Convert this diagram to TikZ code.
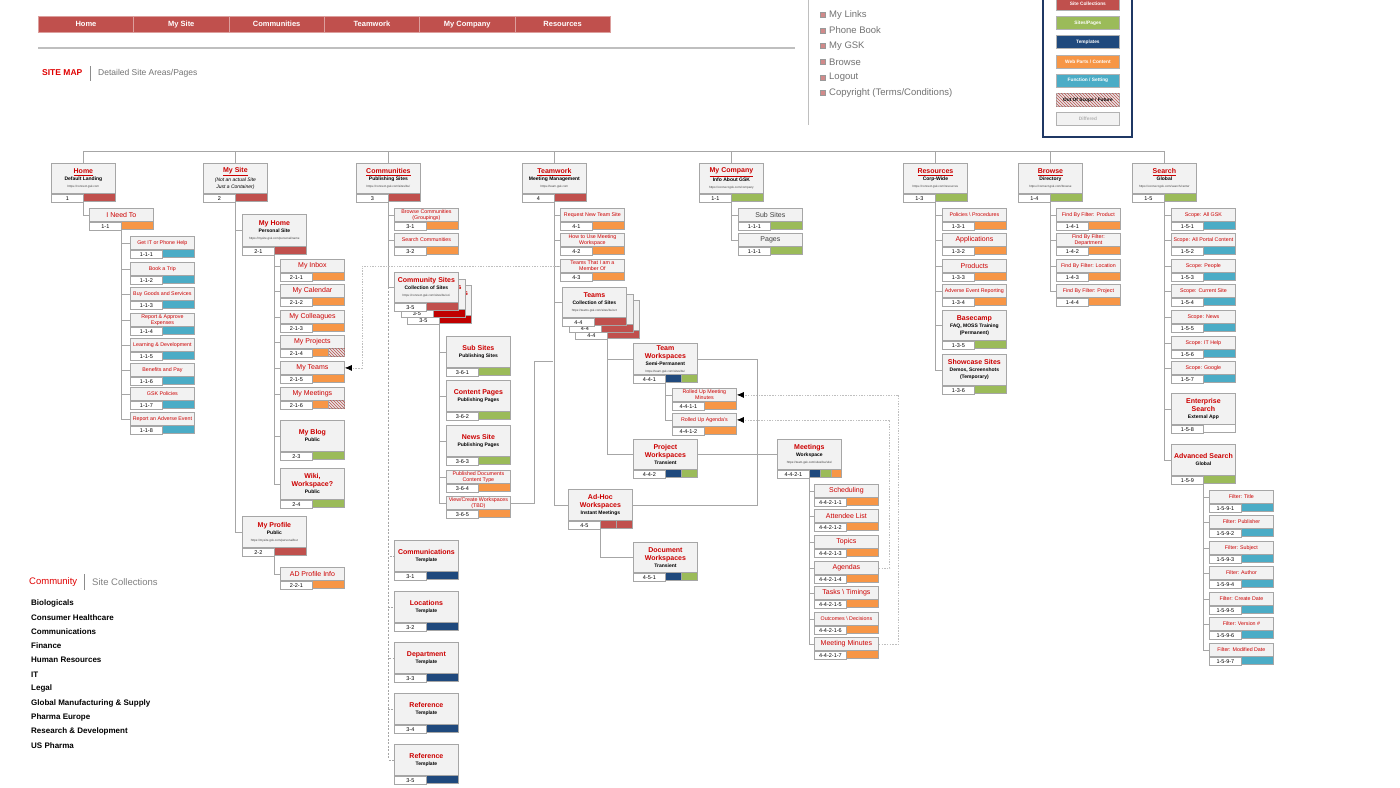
\documentclass[tikz,border=0pt]{standalone}
\usepackage{fontspec}
\setmainfont{Liberation Sans}
\usetikzlibrary{arrows.meta,patterns,positioning}
\definecolor{sred}{HTML}{C0504D}
\definecolor{sdark}{HTML}{C00000}
\definecolor{sorange}{HTML}{F79646}
\definecolor{sgreen}{HTML}{9BBB59}
\definecolor{snavy}{HTML}{1F497D}
\definecolor{sblue}{HTML}{4BACC6}
\definecolor{tred}{HTML}{CC0000}
\definecolor{mapred}{HTML}{E00000}
\definecolor{boxfill}{HTML}{F2F2F2}
\definecolor{boxgray}{HTML}{A6A6A6}
\definecolor{legnavy}{HTML}{1F3864}
\definecolor{bulletred}{HTML}{D08A8A}

\tikzset{
  lbl/.style={draw=boxgray, fill=boxfill, line width=0.8pt, minimum width=64pt,
    inner sep=0pt, align=center, anchor=north west, font=\fontsize{5}{7}\selectfont},
  idc/.style={draw=boxgray, fill=white, line width=0.8pt, minimum width=32pt,
    minimum height=8pt, inner sep=0pt, anchor=north west, font=\fontsize{5.5}{6}\selectfont},
  cellbox/.style={draw=boxgray, line width=0.8pt},
  cred/.style={fill=sred}, cdark/.style={fill=sdark}, corange/.style={fill=sorange},
  cgreen/.style={fill=sgreen}, cnavy/.style={fill=snavy}, cblue/.style={fill=sblue},
  cwhite/.style={fill=white},
  chatch/.style={fill=black!10, postaction={pattern=north west lines, pattern color=sred}},
  conn/.style={draw=black!35, line width=0.8pt},
  dots/.style={draw=black!25, line width=0.7pt, dash pattern=on 1.5pt off 1.2pt,
    -{Latex[length=7pt,width=6pt,color=black]}},
  navcell/.style={anchor=north west, minimum width=95.33pt, minimum height=16pt, inner sep=0pt,
    fill=sred, draw=sred!55!white, line width=0.6pt, text=white,
    font=\fontsize{7.5}{8}\selectfont\bfseries},
  legitem/.style={anchor=north west, minimum width=63pt, minimum height=13pt, inner sep=0pt,
    draw=black!30, line width=0.8pt, text=white, font=\fontsize{4.8}{5}\selectfont\bfseries},
  bulletsq/.style={draw=black!40, fill=bulletred, minimum size=5pt, inner sep=0pt, line width=0.5pt},
  linktxt/.style={anchor=west, inner sep=0pt, text=black!55, font=\fontsize{9.5}{11}\selectfont},
  commitem/.style={anchor=west, inner sep=0pt, font=\fontsize{8}{9}\selectfont\bfseries},
}

\newcommand{\ttl}[1]{{\fontsize{7}{8}\selectfont\bfseries\color{tred}#1}}
\newcommand{\ttu}[1]{\ttl{\underline{#1}}}
\newcommand{\sbt}[1]{{\fontsize{5}{6}\selectfont\bfseries #1}}
\newcommand{\itl}[1]{{\fontsize{5}{6}\selectfont\itshape #1}}
\newcommand{\lnk}[1]{{\fontsize{3}{4}\selectfont\color{black!75}#1}}
\newcommand{\smt}[1]{{\fontsize{5.3}{6}\selectfont\color{tred}#1}}
\newcommand{\bgt}[1]{{\fontsize{7}{8}\selectfont\color{tred}#1}}
\newcommand{\gyt}[1]{{\fontsize{7}{8}\selectfont\color{black!75}#1}}
% name, x, y, label height, label, id, cells
\newcommand{\pgbox}[7]{%
  \node[lbl, minimum height=#4] (#1) at (#2,#3) {#5};
  \node[idc] (#1-id) at (#1.south west) {#6};
  \foreach \cc [count=\k] in {#7} {\xdef\ncell{\k}}%
  \foreach \cc [count=\k from 0] in {#7}
    \path[cellbox,\cc] ([xshift=\k*32/\ncell]#1-id.north east) rectangle ++(32/\ncell,8);
}

\begin{document}
\begin{tikzpicture}[x=1pt,y=-1pt]
  \useasboundingbox (0,0) rectangle (1400,787);
  \fill[white] (0,0) rectangle (1400,787);

  % top navigation
  \foreach \t [count=\i from 0] in {Home,My Site,Communities,Teamwork,My Company,Resources}
    \node[navcell] (nav\i) at (38+95.33*\i,16) {\t};
  \draw[black!25, line width=1.2pt] (38,48) -- (795,48);
  \node[anchor=west, inner sep=0pt, text=mapred, font=\fontsize{8.5}{10}\selectfont\bfseries] (sitemap) at (42,73) {SITE MAP};
  \draw[black!45, line width=0.8pt] (90,66) -- (90,81);
  \node[anchor=west, inner sep=0pt, text=black!55, font=\fontsize{8.5}{10}\selectfont] (areas) at (98,73) {Detailed Site Areas/Pages};

  % links
  \draw[black!25, line width=1pt] (808,0) -- (808,125);
  \foreach \t [count=\i from 0] in {My Links,Phone Book,My GSK,Browse,Logout,Copyright (Terms/Conditions)} {
    \node[bulletsq] (bu\i) at (823,15+15.6*\i) {};
    \node[linktxt] (lk\i) at (829,15+15.6*\i) {\t};
  }

  % legend
  \draw[legnavy, line width=1.6pt] (1043,-5) rectangle (1132,137);
  \node[legitem, fill=sred] (lg1) at (1056,-3) {Site Collections};
  \node[legitem, fill=sgreen] (lg2) at (1056,16) {Sites/Pages};
  \node[legitem, fill=snavy] (lg3) at (1056,35) {Templates};
  \node[legitem, fill=sorange] (lg4) at (1056,54.5) {Web Parts / Content};
  \node[legitem, fill=sblue] (lg5) at (1056,73.5) {Function / Setting};
  \node[legitem, chatch, text=black] (lg6) at (1056,93) {Out Of Scope / Future};
  \node[legitem, fill=boxfill, text=black!30] (lg7) at (1056,112) {Differed};

  % Home
  \pgbox{home}{51}{163}{30}{\ttu{Home}\\\sbt{Default Landing}\\\lnk{https://connect.gsk.com}}{1}{cred}
  \pgbox{ineed}{89}{208}{13}{\bgt{I Need To}}{1-1}{corange}
  \pgbox{h1}{130}{236}{13}{\smt{Get IT or Phone Help}}{1-1-1}{cblue}
  \pgbox{h2}{130}{262}{13}{\smt{Book a Trip}}{1-1-2}{cblue}
  \pgbox{h3}{130}{287}{13}{\smt{Buy Goods and Services}}{1-1-3}{cblue}
  \pgbox{h4}{130}{313}{13}{\smt{Report \& Approve}\\[-1pt]\smt{Expenses}}{1-1-4}{cblue}
  \pgbox{h5}{130}{338}{13}{\smt{Learning \& Development}}{1-1-5}{cblue}
  \pgbox{h6}{130}{363}{13}{\smt{Benefits and Pay}}{1-1-6}{cblue}
  \pgbox{h7}{130}{387}{13}{\smt{GSK Policies}}{1-1-7}{cblue}
  \pgbox{h8}{130}{412}{13}{\smt{Report an Adverse Event}}{1-1-8}{cblue}

  % My Site
  \pgbox{mysite}{203}{163}{30}{\ttu{My Site}\\[1.5pt]\itl{(Not an actual Site}\\\itl{Just a Container)}}{2}{cred}
  \pgbox{myhome}{242}{214}{32}{\ttl{My Home}\\\sbt{Personal Site}\\\lnk{https://mysite.gsk.com/personal/name}}{2-1}{cred}
  \pgbox{ms1}{280}{259}{13}{\bgt{My Inbox}}{2-1-1}{corange}
  \pgbox{ms2}{280}{284}{13}{\bgt{My Calendar}}{2-1-2}{corange}
  \pgbox{ms3}{280}{310}{13}{\bgt{My Colleagues}}{2-1-3}{corange}
  \pgbox{ms4}{280}{335}{13}{\bgt{My Projects}}{2-1-4}{corange,chatch}
  \pgbox{ms5}{280}{361}{13}{\bgt{My Teams}}{2-1-5}{corange}
  \pgbox{ms6}{280}{387}{13}{\bgt{My Meetings}}{2-1-6}{corange,chatch}
  \pgbox{blog}{280}{420}{31}{\ttl{My Blog}\\\sbt{Public}}{2-3}{cgreen}
  \pgbox{wiki}{280}{468}{31}{\ttl{Wiki,}\\[1pt]\ttl{Workspace?}\\\sbt{Public}}{2-4}{cgreen}
  \pgbox{myprof}{242}{516}{31}{\ttl{My Profile}\\\sbt{Public}\\\lnk{https://mysite.gsk.com/personal/but}}{2-2}{cred}
  \pgbox{adp}{280}{567}{13}{\bgt{AD Profile Info}}{2-2-1}{corange}

  % Communities
  \pgbox{comm}{356}{163}{30}{\ttu{Communities}\\\sbt{Publishing Sites}\\\lnk{https://connect.gsk.com/sites/bu/}}{3}{cred}
  \pgbox{c31}{394}{208}{13}{\smt{Browse Communities}\\[-1pt]\smt{(Groupings)}}{3-1}{corange}
  \pgbox{c32}{394}{233}{13}{\smt{Search Communities}}{3-2}{corange}
  \pgbox{cs3}{407}{285}{30}{\ttl{Community Sites}\\\sbt{Collection of Sites}\\\lnk{https://connect.gsk.com/sites/bu/oci}}{3-5}{cdark}
  \pgbox{cs2}{400.5}{278.5}{30}{\ttl{Community Sites}\\\sbt{Collection of Sites}\\\lnk{https://connect.gsk.com/sites/bu/oci}}{3-5}{cdark}
  \pgbox{cs1}{394}{272}{30}{\ttl{Community Sites}\\\sbt{Collection of Sites}\\\lnk{https://connect.gsk.com/sites/bu/oci}}{3-5}{cred}
  \pgbox{c361}{446}{336}{31}{\ttl{Sub Sites}\\\sbt{Publishing Sites}}{3-6-1}{cgreen}
  \pgbox{c362}{446}{380}{31}{\ttl{Content Pages}\\\sbt{Publishing Pages}}{3-6-2}{cgreen}
  \pgbox{c363}{446}{425}{31}{\ttl{News Site}\\\sbt{Publishing Pages}}{3-6-3}{cgreen}
  \pgbox{c364}{446}{470}{13}{\smt{Published Documents}\\[-1pt]\smt{Content Type}}{3-6-4}{corange}
  \pgbox{c365}{446}{496}{13}{\smt{View/Create Workspaces}\\[-1pt]\smt{(TBD)}}{3-6-5}{corange}
  \pgbox{ct1}{394}{540}{31}{\ttl{Communications}\\\sbt{Template}}{3-1}{cnavy}
  \pgbox{ct2}{394}{591}{31}{\ttl{Locations}\\\sbt{Template}}{3-2}{cnavy}
  \pgbox{ct3}{394}{642}{31}{\ttl{Department}\\\sbt{Template}}{3-3}{cnavy}
  \pgbox{ct4}{394}{693}{31}{\ttl{Reference}\\\sbt{Template}}{3-4}{cnavy}
  \pgbox{ct5}{394}{744}{31}{\ttl{Reference}\\\sbt{Template}}{3-5}{cnavy}

  % Teamwork
  \pgbox{team}{522}{163}{30}{\ttu{Teamwork}\\\sbt{Meeting Management}\\\lnk{https://team.gsk.com}}{4}{cred}
  \pgbox{t41}{560}{208}{13}{\smt{Request New Team Site}}{4-1}{corange}
  \pgbox{t42}{560}{233}{13}{\smt{How to Use Meeting}\\[-1pt]\smt{Workspace}}{4-2}{corange}
  \pgbox{t43}{560}{259}{13}{\smt{Teams That I am a}\\[-1pt]\smt{Member Of}}{4-3}{corange}
  \pgbox{teams3}{575}{300}{30}{\ttl{Teams}\\\sbt{Collection of Sites}\\\lnk{https://teams.gsk.com/sites/bu/oct}}{4-4}{cred}
  \pgbox{teams2}{568.5}{293.5}{30}{\ttl{Teams}\\\sbt{Collection of Sites}\\\lnk{https://teams.gsk.com/sites/bu/oct}}{4-4}{cred}
  \pgbox{teams1}{562}{287}{30}{\ttl{Teams}\\\sbt{Collection of Sites}\\\lnk{https://teams.gsk.com/sites/bu/oct}}{4-4}{cred}
  \pgbox{tw}{633}{343}{31}{\ttl{Team}\\[1pt]\ttl{Workspaces}\\\sbt{Semi-Permanent}\\\lnk{https://team.gsk.com/sites/bu/}}{4-4-1}{cnavy,cgreen}
  \pgbox{rum}{672}{388}{13}{\smt{Rolled Up Meeting}\\[-1pt]\smt{Minutes}}{4-4-1-1}{corange}
  \pgbox{rua}{672}{413}{13}{\smt{Rolled Up Agenda's}}{4-4-1-2}{corange}
  \pgbox{pw}{633}{439}{30}{\ttl{Project}\\[1pt]\ttl{Workspaces}\\\sbt{Transient}}{4-4-2}{cnavy,cgreen}
  \pgbox{mtg}{777}{439}{30}{\ttl{Meetings}\\\sbt{Workspace}\\\lnk{https://team.gsk.com/sites/bu/site/}}{4-4-2-1}{cnavy,cgreen,corange}
  \pgbox{m1}{814}{484}{13}{\bgt{Scheduling}}{4-4-2-1-1}{corange}
  \pgbox{m2}{814}{509}{13}{\bgt{Attendee List}}{4-4-2-1-2}{corange}
  \pgbox{m3}{814}{535}{13}{\bgt{Topics}}{4-4-2-1-3}{corange}
  \pgbox{m4}{814}{561}{13}{\bgt{Agendas}}{4-4-2-1-4}{corange}
  \pgbox{m5}{814}{586}{13}{\bgt{Tasks \textbackslash{} Timings}}{4-4-2-1-5}{corange}
  \pgbox{m6}{814}{612}{13}{\smt{Outcomes \textbackslash{} Decisions}}{4-4-2-1-6}{corange}
  \pgbox{m7}{814}{637}{13}{\bgt{Meeting Minutes}}{4-4-2-1-7}{corange}
  \pgbox{ah}{568}{489}{31}{\ttl{Ad-Hoc}\\[1pt]\ttl{Workspaces}\\\sbt{Instant Meetings}}{4-5}{cred,cred}
  \pgbox{dw}{633}{542}{30}{\ttl{Document}\\[1pt]\ttl{Workspaces}\\\sbt{Transient}}{4-5-1}{cnavy,cgreen}

  % My Company
  \pgbox{myco}{699}{163}{30}{\ttu{My Company}\\\sbt{Info About GSK}\\\lnk{https://connect.gsk.com/company}}{1-1}{cgreen}
  \pgbox{mc1}{738}{208}{13}{\gyt{Sub Sites}}{1-1-1}{cgreen}
  \pgbox{mc2}{738}{233}{13}{\gyt{Pages}}{1-1-1}{cgreen}

  % Resources
  \pgbox{res}{903}{163}{30}{\ttu{Resources}\\\sbt{Corp-Wide}\\\lnk{https://connect.gsk.com/resources}}{1-3}{cgreen}
  \pgbox{r1}{942}{208}{13}{\smt{Policies \textbackslash{} Procedures}}{1-3-1}{corange}
  \pgbox{r2}{942}{233}{13}{\bgt{Applications}}{1-3-2}{corange}
  \pgbox{r3}{942}{259}{13}{\bgt{Products}}{1-3-3}{corange}
  \pgbox{r4}{942}{284}{13}{\smt{Adverse Event Reporting}}{1-3-4}{corange}
  \pgbox{r5}{942}{310}{30}{\ttl{Basecamp}\\\sbt{FAQ, MOSS Training}\\\sbt{(Permanent)}}{1-3-5}{cgreen}
  \pgbox{r6}{942}{354}{31}{\ttl{Showcase Sites}\\\sbt{Demos, Screenshots}\\\sbt{(Temporary)}}{1-3-6}{cgreen}

  % Browse
  \pgbox{brw}{1018}{163}{30}{\ttu{Browse}\\\sbt{Directory}\\\lnk{https://connect.gsk.com/browse}}{1-4}{cgreen}
  \pgbox{b1}{1056}{208}{13}{\smt{Find By Filter: Product}}{1-4-1}{corange}
  \pgbox{b2}{1056}{233}{13}{\smt{Find By Filter:}\\[-1pt]\smt{Department}}{1-4-2}{corange}
  \pgbox{b3}{1056}{259}{13}{\smt{Find By Filter: Location}}{1-4-3}{corange}
  \pgbox{b4}{1056}{284}{13}{\smt{Find By Filter: Project}}{1-4-4}{corange}

  % Search
  \pgbox{srch}{1132}{163}{30}{\ttu{Search}\\\sbt{Global}\\\lnk{https://connect.gsk.com/search/center}}{1-5}{cgreen}
  \pgbox{s1}{1171}{208}{13}{\smt{Scope: All GSK}}{1-5-1}{cblue}
  \pgbox{s2}{1171}{233}{13}{\smt{Scope: All Portal Content}}{1-5-2}{cblue}
  \pgbox{s3}{1171}{259}{13}{\smt{Scope: People}}{1-5-3}{cblue}
  \pgbox{s4}{1171}{284}{13}{\smt{Scope: Current Site}}{1-5-4}{cblue}
  \pgbox{s5}{1171}{310}{13}{\smt{Scope: News}}{1-5-5}{cblue}
  \pgbox{s6}{1171}{336}{13}{\smt{Scope: IT Help}}{1-5-6}{cblue}
  \pgbox{s7}{1171}{361}{13}{\smt{Scope: Google}}{1-5-7}{cblue}
  \pgbox{s8}{1171}{393}{31}{\ttl{Enterprise}\\[1pt]\ttl{Search}\\\sbt{External App}}{1-5-8}{cwhite}
  \pgbox{s9}{1171}{444}{31}{\ttl{Advanced Search}\\\sbt{Global}}{1-5-9}{cgreen}
  \pgbox{f1}{1209}{490}{13}{\smt{Filter: Title}}{1-5-9-1}{cblue}
  \pgbox{f2}{1209}{515}{13}{\smt{Filter: Publisher}}{1-5-9-2}{cblue}
  \pgbox{f3}{1209}{541}{13}{\smt{Filter: Subject}}{1-5-9-3}{cblue}
  \pgbox{f4}{1209}{566}{13}{\smt{Filter: Author}}{1-5-9-4}{cblue}
  \pgbox{f5}{1209}{592}{13}{\smt{Filter: Create Date}}{1-5-9-5}{cblue}
  \pgbox{f6}{1209}{617}{13}{\smt{Filter: Version \#}}{1-5-9-6}{cblue}
  \pgbox{f7}{1209}{643}{13}{\smt{Filter: Modified Date}}{1-5-9-7}{cblue}

  % connectors
  \coordinate (bus) at (0,151);
  \draw[conn] (home.north |- bus) -- (srch.north |- bus);
  \foreach \t in {home,mysite,comm,team,myco,res,brw,srch}
    \draw[conn] (\t.north) -- (\t.north |- bus);
  \draw[conn] (home-id.south east) |- (ineed.west);
  \foreach \c in {h1,h2,h3,h4,h5,h6,h7,h8} \draw[conn] (ineed-id.south east) |- (\c.west);
  \foreach \c in {myhome,myprof} \draw[conn] (mysite-id.south east) |- (\c.west);
  \foreach \c in {ms1,ms2,ms3,ms4,ms5,ms6,blog,wiki} \draw[conn] (myhome-id.south east) |- (\c.west);
  \draw[conn] (myprof-id.south east) |- (adp.west);
  \foreach \c in {c31,c32,cs1} \draw[conn] (comm-id.south east) |- (\c.west);
  \foreach \c in {ct1,ct2,ct3,ct4,ct5}
    \draw[conn, dash pattern=on 2pt off 1.5pt] (cs1.west -| comm-id.south east) |- (\c.west);
  \foreach \c in {c361,c362,c363,c364,c365} \draw[conn] (cs3-id.south east) |- (\c.west);
  \coordinate (twjoin) at (553,361);
  \draw[conn] (c365.east) -- ++(24,0) |- (twjoin);
  \foreach \c in {t41,t42,t43,teams1,ah} \draw[conn] (team-id.south east) |- (\c.west);
  \foreach \c in {tw,pw} \draw[conn] (teams3-id.south east) |- (\c.west);
  \foreach \c in {rum,rua} \draw[conn] (tw-id.south east) |- (\c.west);
  \draw[conn] (tw.east) -- ++(60,0) |- (ah.east);
  \draw[conn] (pw.east) -- (mtg.west);
  \foreach \c in {m1,m2,m3,m4,m5,m6,m7} \draw[conn] (mtg-id.south east) |- (\c.west);
  \draw[conn] (ah-id.south east) |- (dw.west);
  \foreach \c in {mc1,mc2} \draw[conn] (myco-id.south east) |- (\c.west);
  \foreach \c in {r1,r2,r3,r4,r5,r6} \draw[conn] (res-id.south east) |- (\c.west);
  \foreach \c in {b1,b2,b3,b4} \draw[conn] (brw-id.south east) |- (\c.west);
  \foreach \c in {s1,s2,s3,s4,s5,s6,s7,s8,s9} \draw[conn] (srch-id.south east) |- (\c.west);
  \foreach \c in {f1,f2,f3,f4,f5,f6,f7} \draw[conn] (s9-id.south east) |- (\c.west);

  % cross references
  \draw[dots] (t43.west) -- ++(-198,0) |- (ms5.east);
  \draw[dots] (m4.east) -- ++(11,0) |- (rua.east);
  \draw[dots] (m7.east) -- ++(20,0) |- (rum.east);

  % community list
  \node[anchor=west, inner sep=0pt, text=mapred, font=\fontsize{9.5}{11}\selectfont] (commhead) at (29,582) {Community};
  \draw[black!45, line width=0.8pt] (84,574) -- (84,590);
  \node[anchor=west, inner sep=0pt, text=black!50, font=\fontsize{9.5}{11}\selectfont] (sitecoll) at (92,582) {Site Collections};
  \foreach \t [count=\i from 0] in {Biologicals,Consumer Healthcare,Communications,Finance,Human Resources,IT,Legal,Global Manufacturing \& Supply,Pharma Europe,Research \& Development,US Pharma}
    \node[commitem] (ci\i) at (31,603+14.3*\i) {\t};
\end{tikzpicture}
\end{document}
